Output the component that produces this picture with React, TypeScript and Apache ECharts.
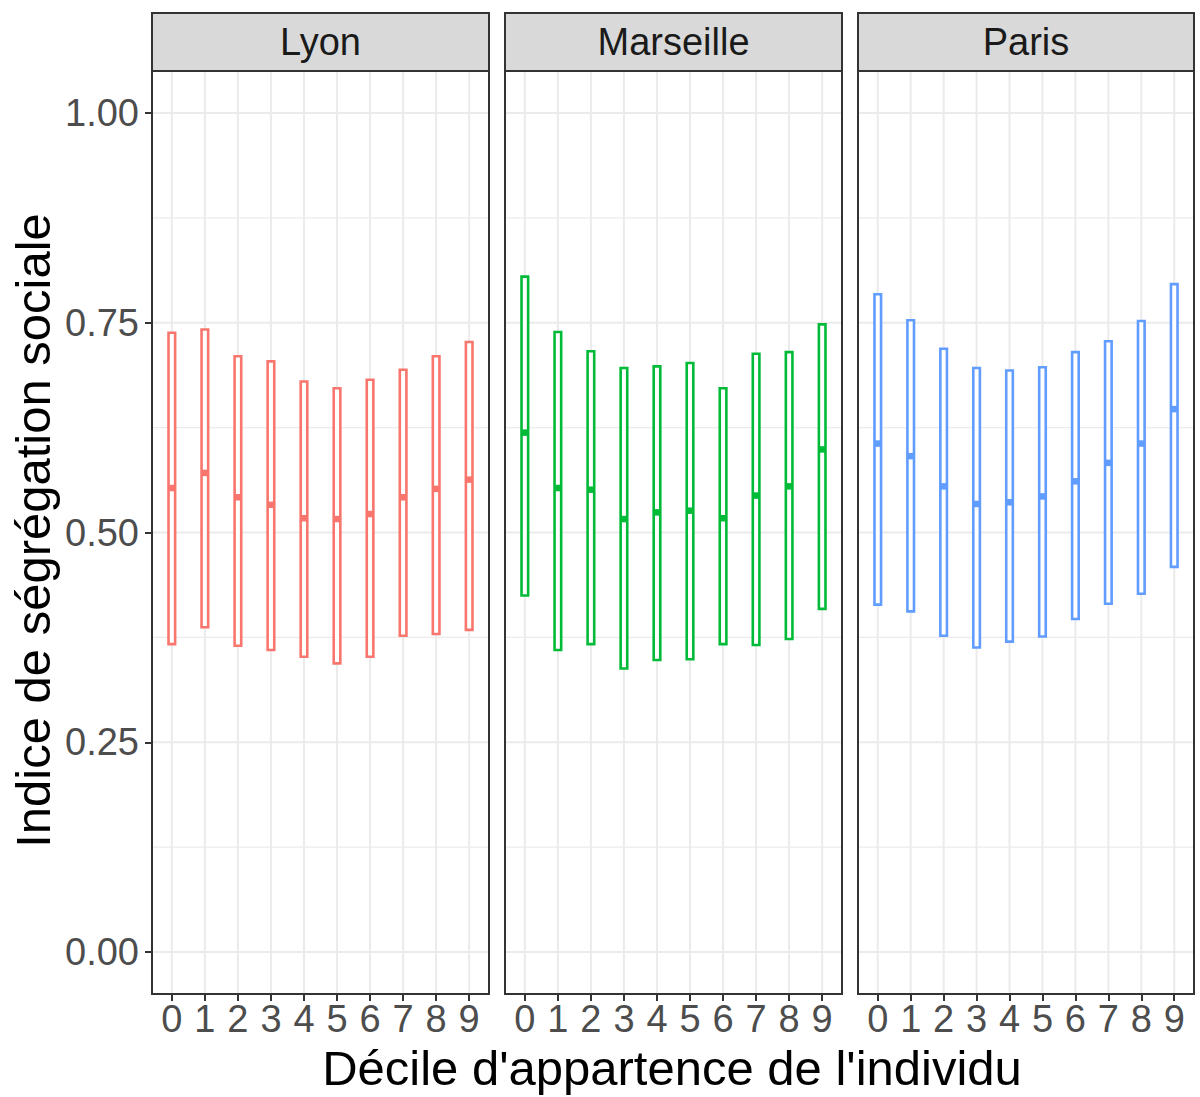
import React, { useEffect, useRef } from 'react';
import * as echarts from 'echarts';

const cities = ['Lyon', 'Marseille', 'Paris'];
const cityColors = ['#F8766D', '#00BA38', '#619CFF'];
const deciles = [0, 1, 2, 3, 4, 5, 6, 7, 8, 9];

const lyonLow = [0.367, 0.387, 0.365, 0.36, 0.352, 0.344, 0.352, 0.377, 0.379, 0.384];
const lyonMid = [0.553, 0.571, 0.542, 0.533, 0.517, 0.516, 0.522, 0.542, 0.552, 0.563];
const lyonHigh = [0.738, 0.742, 0.71, 0.704, 0.68, 0.672, 0.682, 0.694, 0.71, 0.727];

const marseilleLow = [0.425, 0.36, 0.367, 0.338, 0.348, 0.349, 0.367, 0.366, 0.373, 0.409];
const marseilleMid = [0.619, 0.553, 0.551, 0.516, 0.524, 0.526, 0.517, 0.544, 0.555, 0.599];
const marseilleHigh = [0.805, 0.739, 0.716, 0.696, 0.698, 0.702, 0.672, 0.713, 0.715, 0.748];

const parisLow = [0.414, 0.406, 0.377, 0.363, 0.37, 0.376, 0.397, 0.415, 0.427, 0.459];
const parisMid = [0.606, 0.591, 0.555, 0.534, 0.536, 0.543, 0.561, 0.583, 0.606, 0.647];
const parisHigh = [0.784, 0.753, 0.719, 0.696, 0.693, 0.697, 0.715, 0.728, 0.752, 0.796];

const yTicks = [0, 0.25, 0.5, 0.75, 1];
const yMinor = [0.125, 0.375, 0.625, 0.875];

const xTitle = "Décile d'appartence de l'individu";
const yTitle = 'Indice de ségrégation sociale';

const FONT = '"Liberation Sans", Arial, Helvetica, sans-serif';

const panelLeft = [152, 505, 858];
const panelWidth = [337, 337, 336];
const panelTop = 71;
const panelHeight = 923;
const stripTop = 13;

export default function App() {
  const ref = useRef<HTMLDivElement>(null);

  useEffect(() => {
    if (!ref.current) return;
    const chart = echarts.init(ref.current, null, { renderer: 'svg' });

    const lows = [lyonLow, marseilleLow, parisLow];
    const mids = [lyonMid, marseilleMid, parisMid];
    const highs = [lyonHigh, marseilleHigh, parisHigh];

    const grids = cities.map((_, i) => ({
      left: panelLeft[i],
      top: panelTop,
      width: panelWidth[i],
      height: panelHeight,
      show: true,
      borderColor: '#333333',
      borderWidth: 2,
      backgroundColor: 'transparent',
      containLabel: false,
    }));

    const xAxes = cities.map((_, i) => ({
      type: 'value',
      gridIndex: i,
      position: 'bottom',
      min: -0.6,
      max: 9.6,
      axisLine: { show: false, onZero: false },
      axisTick: {
        show: true,
        customValues: deciles,
        length: 7,
        lineStyle: { color: '#333333', width: 2 },
      },
      axisLabel: {
        show: true,
        customValues: deciles,
        fontSize: 38,
        fontFamily: FONT,
        color: '#4D4D4D',
        margin: 6,
      },
      splitLine: { show: false },
    }));

    const yAxes = cities.map((_, i) => ({
      type: 'value',
      gridIndex: i,
      position: 'left',
      min: -0.05,
      max: 1.05,
      axisLine: { show: false, onZero: false },
      axisTick: {
        show: i === 0,
        customValues: yTicks,
        length: 7,
        lineStyle: { color: '#333333', width: 2 },
      },
      axisLabel: {
        show: i === 0,
        customValues: yTicks,
        fontSize: 38,
        fontFamily: FONT,
        color: '#4D4D4D',
        margin: 13,
        formatter: (v: number) => v.toFixed(2),
      },
      splitLine: { show: false },
    }));

    const gridSeries = cities.map((_, i) => {
      const data: number[][] = [];
      yTicks.forEach((v) => data.push([v, 0]));
      yMinor.forEach((v) => data.push([v, 1]));
      deciles.forEach((v) => data.push([v, 2]));
      return {
        type: 'custom',
        xAxisIndex: i,
        yAxisIndex: i,
        silent: true,
        z: 1,
        clip: false,
        data,
        encode: { x: -1, y: -1 },
        renderItem: (params: any, api: any) => {
          const cs = params.coordSys;
          const v = api.value(0);
          const kind = api.value(1);
          if (kind === 2) {
            const x = api.coord([v, 0])[0];
            return {
              type: 'line',
              shape: { x1: x, y1: cs.y + 1, x2: x, y2: cs.y + cs.height - 1 },
              style: { stroke: '#EBEBEB', lineWidth: 2 },
            };
          }
          const y = api.coord([0, v])[1];
          return {
            type: 'line',
            shape: { x1: cs.x + 1, y1: y, x2: cs.x + cs.width - 1, y2: y },
            style: { stroke: '#EBEBEB', lineWidth: kind === 0 ? 2 : 1.1 },
          };
        },
      };
    });

    const boxSeries = cities.map((c, i) => {
      const color = cityColors[i];
      return {
        type: 'custom',
        name: c,
        xAxisIndex: i,
        yAxisIndex: i,
        z: 3,
        data: deciles.map((d, k) => [d, lows[i][k], mids[i][k], highs[i][k]]),
        encode: { x: 0, y: [1, 2, 3] },
        renderItem: (params: any, api: any) => {
          const x = api.value(0);
          const lo = api.coord([x, api.value(1)]);
          const md = api.coord([x, api.value(2)]);
          const hi = api.coord([x, api.value(3)]);
          const w = api.size([0.2, 0])[0];
          return {
            type: 'group',
            children: [
              {
                type: 'rect',
                shape: { x: lo[0] - w / 2, y: hi[1], width: w, height: lo[1] - hi[1] },
                style: { fill: '#FFFFFF', stroke: color, lineWidth: 2.6 },
              },
              {
                type: 'line',
                shape: { x1: lo[0] - w / 2, y1: md[1], x2: lo[0] + w / 2, y2: md[1] },
                style: { stroke: color, lineWidth: 6.5 },
              },
            ],
          };
        },
      };
    });

    const graphics: any[] = [];
    cities.forEach((c, i) => {
      graphics.push({
        type: 'rect',
        shape: { x: panelLeft[i], y: stripTop, width: panelWidth[i], height: panelTop - stripTop },
        style: { fill: '#D9D9D9', stroke: '#333333', lineWidth: 2 },
        z: 10,
      });
      graphics.push({
        type: 'text',
        x: panelLeft[i] + panelWidth[i] / 2,
        y: (stripTop + panelTop) / 2,
        style: {
          text: c,
          fontSize: 38,
          fontFamily: FONT,
          fill: '#1A1A1A',
          textAlign: 'center',
          textVerticalAlign: 'middle',
        },
        z: 11,
      });
    });
    graphics.push({
      type: 'text',
      x: 672,
      y: 1068,
      style: {
        text: xTitle,
        fontSize: 49,
        fontFamily: FONT,
        fill: '#000000',
        textAlign: 'center',
        textVerticalAlign: 'middle',
      },
    });
    graphics.push({
      type: 'text',
      x: 33,
      y: panelTop + panelHeight / 2 - 2,
      rotation: Math.PI / 2,
      style: {
        text: yTitle,
        fontSize: 49,
        fontFamily: FONT,
        fill: '#000000',
        textAlign: 'center',
        textVerticalAlign: 'middle',
      },
    });

    chart.setOption({
      animation: false,
      backgroundColor: '#FFFFFF',
      grid: grids,
      xAxis: xAxes,
      yAxis: yAxes,
      series: [...gridSeries, ...boxSeries],
      graphic: graphics,
    });

    return () => chart.dispose();
  }, []);

  return (
    <div
      ref={ref}
      style={{ position: 'absolute', left: 0, top: 0, width: 1200, height: 1097 }}
    />
  );
}
